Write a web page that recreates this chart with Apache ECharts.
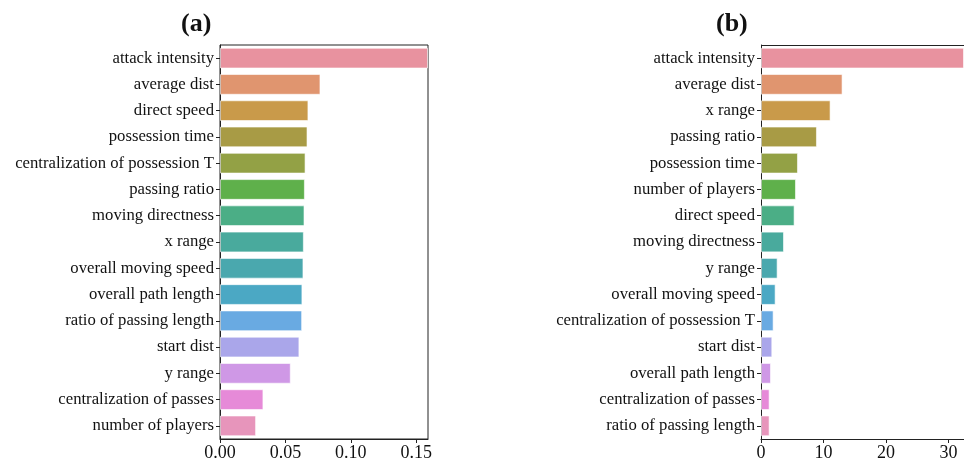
<!DOCTYPE html>
<html>
<head>
<meta charset="utf-8">
<script src="https://cdn.jsdelivr.net/npm/echarts@6/dist/echarts.min.js"></script>
<style>
  html, body { margin: 0; padding: 0; background: #fff; }
  #chart { width: 964px; height: 462px; }
</style>
</head>
<body>
<div id="chart"></div>
<script>
// Feature importance, panel (a)
const featuresA = [
  'attack intensity', 'average dist', 'direct speed', 'possession time',
  'centralization of possession T', 'passing ratio', 'moving directness',
  'x range', 'overall moving speed', 'overall path length',
  'ratio of passing length', 'start dist', 'y range',
  'centralization of passes', 'number of players'
];
const valuesA = [
  0.159, 0.0768, 0.0676, 0.0669, 0.0654, 0.0649, 0.0646, 0.0641,
  0.0638, 0.0630, 0.0628, 0.0607, 0.0541, 0.0332, 0.0276
];
const ticksA = [0, 0.05, 0.10, 0.15];

// Feature importance, panel (b)
const featuresB = [
  'attack intensity', 'average dist', 'x range', 'passing ratio',
  'possession time', 'number of players', 'direct speed',
  'moving directness', 'y range', 'overall moving speed',
  'centralization of possession T', 'start dist', 'overall path length',
  'centralization of passes', 'ratio of passing length'
];
const valuesB = [
  32.5, 13.06, 11.14, 8.96, 5.92, 5.60, 5.38, 3.68,
  2.66, 2.34, 2.02, 1.81, 1.60, 1.38, 1.38
];
const ticksB = [0, 10, 20, 30];

// husl-like palette, one colour per bar position
const palette = [
  '#e8929f', '#e0956f', '#c99a4a', '#a89b45', '#93a145',
  '#5fb04b', '#4bae86', '#49aa9d', '#4aa8ae', '#4ba8c4',
  '#69aae2', '#aaa6ea', '#cf98e6', '#e68ad8', '#e795bb'
];

const FONT = '"Liberation Serif", "Times New Roman", serif';

function barData(values) {
  return values.map((v, i) => ({
    value: v,
    itemStyle: { color: palette[i % palette.length] }
  }));
}

function xAxisFor(idx, max, ticks, decimals) {
  return {
    type: 'value', gridIndex: idx, min: 0, max: max,
    interval: ticks[1] - ticks[0],
    axisLine: { show: true, lineStyle: { color: '#222', width: 1 } },
    axisTick: { show: true, length: 4, lineStyle: { color: '#222' } },
    axisLabel: {
      color: '#111', fontFamily: FONT, fontSize: 18, margin: 5,
      formatter: v => v.toFixed(decimals),
      showMaxLabel: false
    },
    splitLine: { show: false }
  };
}

function yAxisFor(idx, cats) {
  return {
    type: 'category', gridIndex: idx, data: cats, inverse: true,
    axisLine: { show: true, lineStyle: { color: '#222', width: 1 } },
    axisTick: { show: true, length: 4, alignWithLabel: true, lineStyle: { color: '#222' } },
    axisLabel: { color: '#111', fontFamily: FONT, fontSize: 16.7, margin: 6 }
  };
}

function panelTitle(text, cx) {
  return {
    type: 'text', left: cx - 16, top: 11,
    style: {
      text: text, fill: '#111',
      font: 'bold 26px ' + FONT
    }
  };
}

const chart = echarts.init(document.getElementById('chart'), null, { renderer: 'canvas' });
chart.setOption({
  animation: false,
  backgroundColor: '#fff',
  graphic: [
    panelTitle('(a)', 197),
    panelTitle('(b)', 732),
    // top spine of panel (b); its right side runs past the page edge
    { type: 'line', shape: { x1: 761, y1: 45.5, x2: 964, y2: 45.5 },
      style: { stroke: '#222', lineWidth: 1 }, z: 10 }
  ],
  grid: [
    { left: 220, top: 45, width: 208, height: 397, show: true,
      borderColor: '#222', borderWidth: 1, backgroundColor: 'transparent' },
    { left: 761, top: 45, width: 203, height: 397, show: false }
  ],
  xAxis: [
    xAxisFor(0, 0.159, ticksA, 2),
    xAxisFor(1, 32.5, ticksB, 0)
  ],
  yAxis: [
    yAxisFor(0, featuresA),
    yAxisFor(1, featuresB)
  ],
  series: [
    { type: 'bar', xAxisIndex: 0, yAxisIndex: 0, data: barData(valuesA),
      barCategoryGap: '21%',
      itemStyle: { borderColor: 'rgba(255,255,255,0.6)', borderWidth: 1 } },
    { type: 'bar', xAxisIndex: 1, yAxisIndex: 1, data: barData(valuesB),
      barCategoryGap: '21%',
      itemStyle: { borderColor: 'rgba(255,255,255,0.6)', borderWidth: 1 } }
  ]
});
</script>
</body>
</html>
